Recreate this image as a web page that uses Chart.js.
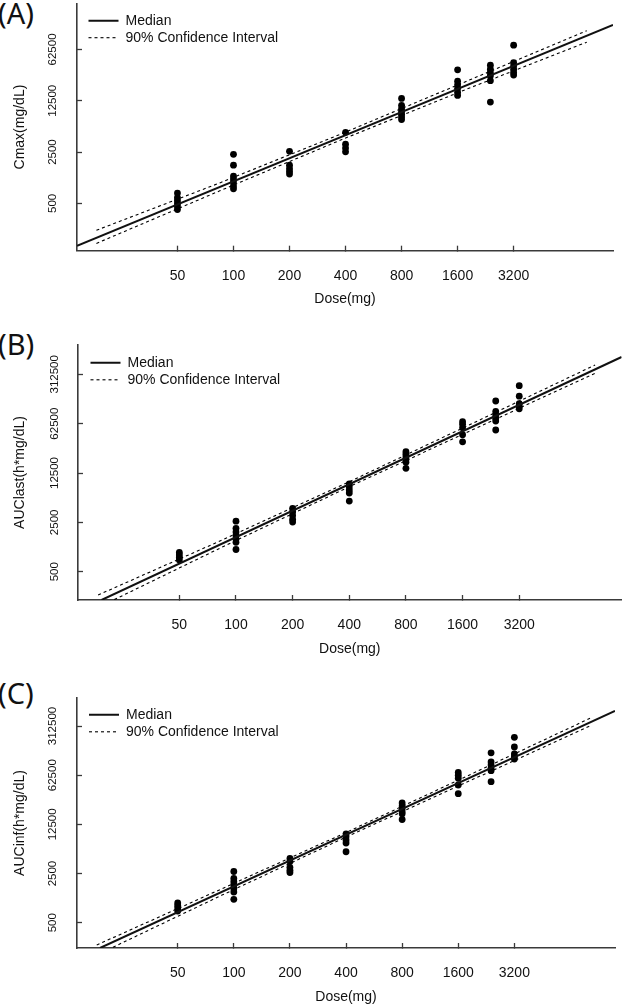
<!DOCTYPE html>
<html>
<head>
<meta charset="utf-8">
<script src="https://cdn.jsdelivr.net/npm/chart.js@4.4.1/dist/chart.umd.min.js"></script>
<style>
  html, body { margin: 0; padding: 0; background: #ffffff; }
  body { width: 625px; height: 1006px; position: relative; overflow: hidden; }
  .panel { position: absolute; left: 0; width: 625px; }
  .tag { position: absolute; left: -2px; font-family: "Noto Sans", sans-serif; font-size: 29px; line-height: 1; color: #111; white-space: nowrap; }
</style>
</head>
<body>
<div class="tag" style="top:-2px">(A)</div>
<div class="tag" style="top:329px">(B)</div>
<div class="tag" style="top:678px">(C)</div>
<canvas id="chartA" class="panel" style="top:0px" width="625" height="310"></canvas>
<canvas id="chartB" class="panel" style="top:330px" width="625" height="330"></canvas>
<canvas id="chartC" class="panel" style="top:660px" width="625" height="346"></canvas>
<script>
// ---------------- data ----------------
const doses = [50, 100, 200, 400, 800, 1600, 2400, 3200];
const doseTicks = [50, 100, 200, 400, 800, 1600, 3200];
const cmaxTicks = [500, 2500, 12500, 62500];
const aucTicks = [500, 2500, 12500, 62500, 312500];

// (A) Cmax observations per dose group
const cmaxObs = [
  [690, 597, 543, 495, 452, 411],
  [2330, 1656, 1178, 1075, 979, 865, 788],
  [2555, 1656, 1486, 1355, 1253],
  [4645, 3200, 2830, 2515],
  [13460, 10840, 9760, 8950, 8200, 7550, 6940],
  [33030, 23140, 20640, 18520, 16370, 14770],
  [38100, 33650, 30400, 27430, 23500, 12000],
  [71600, 41400, 37400, 33650, 30400, 27950]
];
const cmaxMedianX = [14.43, 10940];
const cmaxMedianY = [132, 135500];
const cmaxCiX = [18.35, 84.4, 382.3, 1752, 7907];
const cmaxCiUpper = [214.8, 949, 4461, 22570, 112500];
const cmaxCiLower = [142.3, 740.7, 3703, 17620, 78600];

// (B) AUClast observations per dose group
const auclastObs = [
  [935, 862, 795, 732],
  [2595, 2060, 1825, 1630, 1453, 1304, 1031],
  [3955, 3540, 3125, 2760, 2530],
  [8730, 8000, 7180, 6510, 5010],
  [25060, 23030, 21080, 19290, 17730, 14580],
  [66650, 61240, 54600, 43550, 34570],
  [130900, 92900, 82900, 74500, 68200, 50800],
  [215800, 153100, 119900, 110100, 101400]
];
const auclastMedianX = [19.30, 11197];
const auclastMedianY = [198.7, 549800];
const auclastCiX = [18.51, 86.4, 395.2, 1806, 8094];
const auclastCiUpper = [233.9, 1443, 9262, 63040, 423400];
const auclastCiLower = [155.6, 1149, 7869, 51160, 323100];

// (C) AUCinf observations per dose group
const aucinfObs = [
  [953, 878, 809, 733],
  [2672, 2125, 1914, 1718, 1532, 1365, 1076],
  [4090, 3707, 3067, 2782, 2587],
  [9120, 8340, 7490, 6790, 5100],
  [25140, 22800, 20800, 18920, 17660, 14660],
  [68230, 62500, 56490, 45300, 34100],
  [130000, 96200, 87300, 78300, 72400, 50500],
  [215900, 157100, 125000, 114000, 106200]
];
const aucinfMedianX = [19.15, 11092];
const aucinfMedianY = [218.5, 510800];
const aucinfCiX = [18.39, 86.45, 399.9, 1850, 8146];
const aucinfCiUpper = [241.0, 1522, 9577, 63490, 402200];
const aucinfCiLower = [173.8, 1234, 8237, 52180, 312600];

// ---------------- helpers ----------------
const FONT = '"Liberation Sans", Arial, sans-serif';
const AXIS_COLOR = '#3a3a3a';
const INK = '#111111';

function pair(xs, ys) { return xs.map((x, i) => ({ x: x, y: ys[i] })); }
function obsPoints(obs) {
  const pts = [];
  doses.forEach((d, i) => obs[i].forEach(v => pts.push({ x: d, y: v })));
  return pts;
}

function legendLabels(chart) {
  const items = Chart.defaults.plugins.legend.labels.generateLabels(chart);
  items.forEach(it => {
    const ds = chart.data.datasets[it.datasetIndex];
    it.lineDash = ds.borderDash;
    it.lineWidth = ds.borderWidth;
    it.strokeStyle = ds.borderColor;
    it.pointStyle = 'line';
  });
  return items;
}

function makePanel(id, p) {
  const legendShift = {
    id: 'legendShift',
    beforeDraw(chart) {
      const lg = chart.legend, ca = chart.chartArea;
      if (!lg) return;
      lg.left = ca.left + p.legendDx;
      lg.right = lg.left + lg.width;
      lg.top = ca.top + p.legendDy;
      lg.bottom = lg.top + (ca.bottom - ca.top);
    }
  };
  new Chart(document.getElementById(id), {
    type: 'scatter',
    data: {
      datasets: [
        { label: 'Median', data: pair(p.medX, p.medY), showLine: true, borderColor: INK, backgroundColor: INK,
          borderWidth: 2, pointRadius: 0, borderDash: [] },
        { label: '90% Confidence Interval', data: pair(p.ciX, p.ciUp), showLine: true, borderColor: '#000',
          backgroundColor: '#000', borderWidth: 1.1, pointRadius: 0, borderDash: [3, 3] },
        { label: 'lower', data: pair(p.ciX, p.ciLo), showLine: true, borderColor: '#000',
          backgroundColor: '#000', borderWidth: 1.1, pointRadius: 0, borderDash: [3, 3] },
        { label: 'obs', data: obsPoints(p.obs), showLine: false, pointRadius: 3.4, pointHoverRadius: 3.4,
          pointBackgroundColor: '#000', pointBorderColor: '#000', pointBorderWidth: 0 }
      ]
    },
    options: {
      responsive: false,
      devicePixelRatio: 1,
      animation: false,
      events: [],
      layout: { padding: p.pad },
      plugins: {
        tooltip: { enabled: false },
        legend: {
          position: 'chartArea',
          align: 'start',
          labels: {
            filter: (item) => item.datasetIndex < 2,
            generateLabels: legendLabels,
            usePointStyle: true,
            pointStyle: 'line',
            pointStyleWidth: 30,
            padding: 3,
            color: INK,
            font: { family: FONT, size: 14 }
          }
        }
      },
      scales: {
        x: {
          type: 'logarithmic',
          position: 'bottom',
          min: p.xMin, max: p.xMax,
          afterBuildTicks: (s) => { s.ticks = doseTicks.map(v => ({ value: v })); },
          afterFit: (s) => { s.height = p.xHeight; s.paddingLeft = 0; s.paddingRight = 0; },
          ticks: { autoSkip: false, maxRotation: 0, minRotation: 0, padding: 21.6, color: INK,
                   font: { family: FONT, size: 14 }, callback: (v) => String(v) },
          grid: { display: true, drawOnChartArea: false, drawTicks: true, tickLength: -5,
                  tickColor: AXIS_COLOR, tickWidth: 1.3 },
          border: { display: true, color: AXIS_COLOR, width: 1.6 },
          title: { display: true, text: 'Dose(mg)', color: INK, font: { family: FONT, size: 14 },
                   padding: { top: 0, bottom: p.xTitlePad } }
        },
        y: {
          type: 'logarithmic',
          position: 'left',
          min: p.yMin, max: p.yMax,
          afterBuildTicks: (s) => { s.ticks = p.yTicks.map(v => ({ value: v })); },
          afterFit: (s) => { s.width = p.yWidth; s.paddingTop = 0; s.paddingBottom = 0; },
          ticks: { autoSkip: false, minRotation: 90, maxRotation: 90, crossAlign: 'center',
                   padding: p.yTickPad, color: INK, font: { family: FONT, size: 11.5 },
                   callback: (v) => String(v) },
          grid: { display: true, drawOnChartArea: false, drawTicks: true, tickLength: -5,
                  tickColor: AXIS_COLOR, tickWidth: 1.3 },
          border: { display: true, color: AXIS_COLOR, width: 1.6 },
          title: { display: true, text: p.yTitle, color: INK, font: { family: FONT, size: 14 },
                   padding: { top: 11.6, bottom: 0 } }
        }
      }
    },
    plugins: [legendShift]
  });
}

makePanel('chartA', {
  obs: cmaxObs, medX: cmaxMedianX, medY: cmaxMedianY, ciX: cmaxCiX, ciUp: cmaxCiUpper, ciLo: cmaxCiLower,
  yTicks: cmaxTicks, yTitle: 'Cmax(mg/dL)',
  xMin: 14.43, xMax: 10940, yMin: 113.2, yMax: 265200,
  pad: { left: 0, top: 0, right: 12, bottom: 0 }, yWidth: 77, xHeight: 59.3, xTitlePad: 2.6, yTickPad: 13,
  legendDx: 8.5, legendDy: 7.3
});
makePanel('chartB', {
  obs: auclastObs, medX: auclastMedianX, medY: auclastMedianY, ciX: auclastCiX, ciUp: auclastCiUpper, ciLo: auclastCiLower,
  yTicks: aucTicks, yTitle: 'AUClast(h*mg/dL)',
  xMin: 14.47, xMax: 11197, yMin: 198.7, yMax: 812800,
  pad: { left: 0, top: 15, right: 0, bottom: 0 }, yWidth: 78, xHeight: 60, xTitlePad: 2.6, yTickPad: 9,
  legendDx: 9.5, legendDy: 7.8
});
makePanel('chartC', {
  obs: aucinfObs, medX: aucinfMedianX, medY: aucinfMedianY, ciX: aucinfCiX, ciUp: aucinfCiUpper, ciLo: aucinfCiLower,
  yTicks: aucTicks, yTitle: 'AUCinf(h*mg/dL)',
  xMin: 14.41, xMax: 11092, yMin: 218.5, yMax: 781600,
  pad: { left: 0, top: 38, right: 10, bottom: 0 }, yWidth: 77, xHeight: 58, xTitlePad: 0.6, yTickPad: 10.3,
  legendDx: 9, legendDy: 6.8
});
</script>
</body>
</html>
